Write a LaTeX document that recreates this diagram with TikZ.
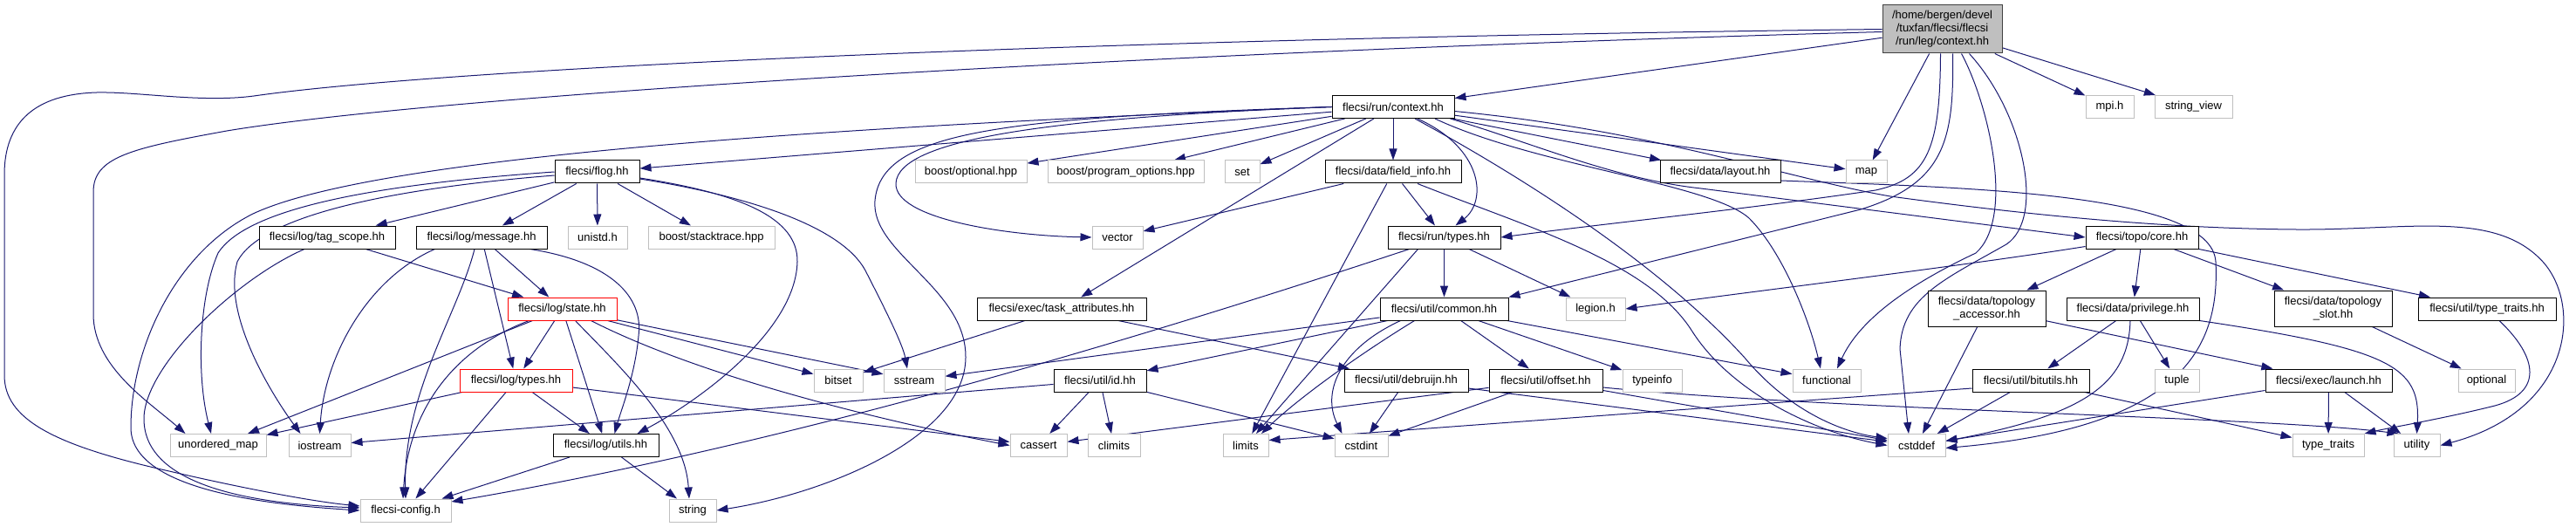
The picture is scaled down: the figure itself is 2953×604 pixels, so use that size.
\documentclass[tikz,border=0pt]{standalone}
\usepackage{fontspec}
\setmainfont{Liberation Sans}
\usetikzlibrary{arrows.meta,calc,backgrounds}
\definecolor{mblue}{RGB}{25,25,112}
\definecolor{gline}{RGB}{191,191,191}
\definecolor{gdark}{RGB}{64,64,64}
\definecolor{gfill}{RGB}{191,191,191}
\newcommand{\nfont}{\fontsize{13}{15}\selectfont}
\tikzset{
 box/.style={draw, rectangle, minimum height=26pt, inner xsep=2pt, inner ysep=1pt, font=\nfont, line width=1pt, fill=white, align=center, text=black},
 doc/.style={box, draw=black},
 ext/.style={box, draw=gline},
 trunc/.style={box, draw=red},
 edge/.style={draw=mblue, line width=1pt, -{Triangle[length=13pt,width=9pt]}},
}
\begin{document}
\begin{tikzpicture}[x=1pt,y=-1pt]
\useasboundingbox (0,0) rectangle (2953,604);
% nodes
\node[box, draw=gdark, fill=gfill, minimum width=137pt, minimum height=55pt] (root) at (2226.5,33.5) {/home/bergen/devel\\/tuxfan/flecsi/flecsi\\/run/leg/context.hh};
\node[doc, minimum width=140pt] (ctx) at (1597,122.5) {flecsi/run/context.hh};
\node[ext, minimum width=55pt] (mpi) at (2418.5,122.5) {mpi.h};
\node[ext, minimum width=89pt] (sview) at (2514.5,122.5) {string\_view};
\node[doc, minimum width=97pt] (flog) at (684.5,197) {flecsi/flog.hh};
\node[ext, minimum width=128pt] (bopt) at (1113,197) {boost/optional.hpp};
\node[ext, minimum width=179pt] (bpo) at (1290.5,197) {boost/program\_options.hpp};
\node[ext, minimum width=40pt] (set) at (1424,197) {set};
\node[doc, minimum width=156pt] (finfo) at (1597,197) {flecsi/data/field\_info.hh};
\node[doc, minimum width=138pt] (layout) at (1972,197) {flecsi/data/layout.hh};
\node[ext, minimum width=47pt] (map) at (2139.5,197) {map};
\node[doc, minimum width=156pt] (tag) at (375,272) {flecsi/log/tag\_scope.hh};
\node[doc, minimum width=150pt] (msg) at (552,272) {flecsi/log/message.hh};
\node[ext, minimum width=68pt] (unistd) at (685,272) {unistd.h};
\node[ext, minimum width=145pt] (bst) at (815.5,272) {boost/stacktrace.hpp};
\node[ext, minimum width=58pt] (vector) at (1281,272) {vector};
\node[doc, minimum width=129pt] (rtypes) at (1655.5,272) {flecsi/run/types.hh};
\node[doc, minimum width=129pt] (core) at (2455.5,272) {flecsi/topo/core.hh};
\node[trunc, minimum width=125pt] (state) at (644.5,354) {flecsi/log/state.hh};
\node[doc, minimum width=194pt] (task) at (1217,354) {flecsi/exec/task\_attributes.hh};
\node[doc, minimum width=147pt] (common) at (1655.5,354) {flecsi/util/common.hh};
\node[ext, minimum width=68pt] (legion) at (1829,354) {legion.h};
\node[doc, minimum width=135pt, minimum height=41pt] (tacc) at (2277.5,353.5) {flecsi/data/topology\\\_accessor.hh};
\node[doc, minimum width=152pt] (priv) at (2445,354) {flecsi/data/privilege.hh};
\node[doc, minimum width=135pt, minimum height=41pt] (tslot) at (2674.5,353.5) {flecsi/data/topology\\\_slot.hh};
\node[doc, minimum width=158pt] (ttraits) at (2851,354) {flecsi/util/type\_traits.hh};
\node[trunc, minimum width=129pt] (ltypes) at (591.5,436) {flecsi/log/types.hh};
\node[ext, minimum width=56pt] (bitset) at (961,436) {bitset};
\node[ext, minimum width=70pt] (sstream) at (1048,436) {sstream};
\node[doc, minimum width=106pt] (id) at (1261,436) {flecsi/util/id.hh};
\node[doc, minimum width=142pt] (debruijn) at (1612,436) {flecsi/util/debruijn.hh};
\node[doc, minimum width=130pt] (offset) at (1772,436) {flecsi/util/offset.hh};
\node[ext, minimum width=68pt] (typeinfo) at (1894,436) {typeinfo};
\node[ext, minimum width=78pt] (functional) at (2094,436) {functional};
\node[doc, minimum width=134pt] (bitutils) at (2328,436) {flecsi/util/bitutils.hh};
\node[ext, minimum width=51pt] (tuple) at (2495.5,436) {tuple};
\node[doc, minimum width=145pt] (launch) at (2669.5,436) {flecsi/exec/launch.hh};
\node[ext, minimum width=65pt] (optional) at (2850.5,436) {optional};
\node[ext, minimum width=110pt] (umap) at (250,510.5) {unordered\_map};
\node[ext, minimum width=71pt] (iostream) at (366.5,510.5) {iostream};
\node[doc, minimum width=121pt] (utils) at (694.5,510.5) {flecsi/log/utils.hh};
\node[ext, minimum width=65pt] (cassert) at (1190.5,510.5) {cassert};
\node[ext, minimum width=60pt] (climits) at (1277,510.5) {climits};
\node[ext, minimum width=52pt] (limits) at (1428,510.5) {limits};
\node[ext, minimum width=61pt] (cstdint) at (1560.5,510.5) {cstdint};
\node[ext, minimum width=66pt] (cstddef) at (2197,510.5) {cstddef};
\node[ext, minimum width=82pt] (stdtt) at (2669,510.5) {type\_traits};
\node[ext, minimum width=53pt] (utility) at (2770.5,510.5) {utility};
\node[ext, minimum width=104pt] (config) at (465,585) {flecsi-config.h};
\node[ext, minimum width=54pt] (string) at (794,585) {string};
% edges
\begin{scope}[on background layer]
% root
\draw[edge] (root) -- (ctx);
\draw[edge] (root.west) .. controls (1200,45) and (500,80) .. (291,110) .. controls (230,118) and (160,105) .. (111,106) .. controls (40,108) and (5,140) .. (5,200) -- (5,430) .. controls (5,480) and (60,510) .. (194,540) .. controls (280,560) and (360,575) .. ($(config.west)+(0,-5)$);
\draw[edge] ($(root.west)+(0,3)$) .. controls (1300,60) and (500,110) .. (260,150) .. controls (150,170) and (107,180) .. (107,220) -- (107,360) .. controls (107,420) and (170,460) .. ($(umap.north west)+(18,0)$);
\draw[edge] (root) -- (map);
\draw[edge] (root) -- (mpi);
\draw[edge] (root) -- (sview);
\draw[edge] ($(root.south)+(-2,0)$) .. controls (2224,170) and (2210,205) .. (2150,218) .. controls (2000,240) and (1850,255) .. (rtypes.east);
\draw[edge] ($(root.south)+(12,0)$) .. controls (2240,160) and (2230,210) .. (2133,240) -- (common.north east);
\draw[edge] ($(root.south)+(22,0)$) .. controls (2280,120) and (2310,250) .. (2265,290) .. controls (2180,330) and (2130,370) .. ($(functional.north)+(12,0)$);
\draw[edge] ($(root.south)+(31,0)$) .. controls (2320,130) and (2345,250) .. (2300,280) .. controls (2230,320) and (2180,340) .. (2178,400) -- ($(cstddef.north)+(-9,0)$);
% run/context.hh
\draw[edge] (ctx) -- (flog);
\draw[edge] (ctx) -- (bopt);
\draw[edge] (ctx) -- (bpo);
\draw[edge] (ctx) -- (set);
\draw[edge] (ctx.west) .. controls (1200,135) and (1030,160) .. (1027,210) .. controls (1025,250) and (1150,270) .. (vector.west);
\draw[edge] (ctx.west) .. controls (1150,135) and (1010,150) .. (1003,230) .. controls (998,290) and (1108,330) .. (1107,410) .. controls (1106,500) and (950,565) .. (string.east);
\draw[edge] (ctx.west) .. controls (1100,140) and (450,170) .. (290,245) .. controls (200,290) and (150,400) .. (150,490) .. controls (150,560) and (300,578) .. (config.west);
\draw[edge] (ctx) -- (finfo);
\draw[edge] ($(ctx.south)+(28,0)$) .. controls (1700,170) and (1705,230) .. ($(rtypes.north)+(13,0)$);
\draw[edge] (ctx) -- (layout);
\draw[edge] (ctx) -- (map);
\draw[edge] ($(ctx.east)+(0,5)$) .. controls (1900,150) and (2050,205) .. (2167,225) .. controls (2350,250) and (2500,262) .. (2632,263) .. controls (2760,264) and (2860,240) .. (2915,300) .. controls (2960,350) and (2950,470) .. (utility.east);
\draw[edge] ($(ctx.south east)+(-5,0)$) .. controls (1760,165) and (1850,205) .. (1950,216) -- (core.west);
\draw[edge] ($(ctx.south)+(48,0)$) .. controls (1760,190) and (1960,210) .. (2005,250) .. controls (2045,290) and (2075,370) .. ($(functional.north)+(-7,0)$);
\draw[edge] ($(ctx.south)+(25,0)$) .. controls (1740,200) and (1900,300) .. (2000,410) .. controls (2050,470) and (2110,495) .. ($(cstddef.west)+(0,-8)$);
\draw[edge] (ctx) -- (task);
% flog
\draw[edge] (flog) -- (tag);
\draw[edge] (flog) -- (msg);
\draw[edge] (flog) -- (unistd);
\draw[edge] (flog) -- (bst);
\draw[edge] (flog.west) .. controls (450,210) and (285,235) .. (250,290) .. controls (228,340) and (225,430) .. ($(umap.north)+(-8,0)$);
\draw[edge] ($(flog.west)+(0,4)$) .. controls (460,215) and (300,245) .. (272,300) .. controls (255,360) and (310,450) .. ($(iostream.north)+(-22,0)$);
\draw[edge] ($(flog.east)+(0,8)$) .. controls (860,225) and (965,260) .. (992,310) .. controls (1015,355) and (1035,395) .. ($(sstream.north)+(-8,0)$);
\draw[edge] ($(flog.east)+(0,7)$) .. controls (850,222) and (915,250) .. (914,300) .. controls (912,380) and (800,460) .. ($(utils.north east)+(-25,0)$);
% tag_scope
\draw[edge] (tag) -- (state);
\draw[edge] ($(tag.south)+(-26,0)$) .. controls (270,320) and (165,420) .. (165,480) .. controls (165,560) and (300,578) .. ($(config.west)+(0,-3)$);
% message
\draw[edge] (msg) -- (state);
\draw[edge] (msg) -- (ltypes);
\draw[edge] ($(msg.south west)+(22,0)$) .. controls (420,320) and (372,410) .. (iostream.north);
\draw[edge] ($(msg.south)+(-8,0)$) .. controls (525,360) and (462,450) .. (config.north);
\draw[edge] ($(msg.south east)+(-20,0)$) .. controls (700,300) and (738,340) .. (732,385) .. controls (728,430) and (712,470) .. ($(utils.north)+(10,0)$);
% state
\draw[edge] (state) -- (umap);
\draw[edge] ($(state.south)+(-38,0)$) .. controls (520,400) and (468,470) .. ($(config.north)+(-3,0)$);
\draw[edge] (state) -- (ltypes);
\draw[edge] (state) -- (utils);
\draw[edge] ($(state.south)+(15,0)$) .. controls (710,420) and (785,490) .. ($(string.north)+(-4,0)$);
\draw[edge] (state) -- (sstream);
\draw[edge] (state) -- (bitset);
\draw[edge] ($(state.south east)+(-30,0)$) .. controls (800,430) and (1000,480) .. (cassert.west);
% log/types
\draw[edge] (ltypes) -- (umap);
\draw[edge] (ltypes) -- (config);
\draw[edge] (ltypes) -- (utils);
\draw[edge] (ltypes) -- (cassert);
% utils
\draw[edge] (utils) -- (config);
\draw[edge] (utils) -- (string);
% run/types
\draw[edge] (rtypes) -- (common);
\draw[edge] (rtypes) -- (legion);
\draw[edge] ($(rtypes.south)+(-30,0)$) -- ($(limits.north)+(12,0)$);
\draw[edge] ($(rtypes.south west)+(25,0)$) .. controls (1300,390) and (900,510) .. ($(config.east)+(0,-10)$);
% field_info
\draw[edge] (finfo) -- (vector);
\draw[edge] (finfo) -- (rtypes);
\draw[edge] (finfo) -- (limits);
\draw[edge] ($(finfo.south)+(28,0)$) .. controls (1750,260) and (1890,300) .. (1940,380) .. controls (1985,450) and (2080,495) .. (cstddef.west);
% layout
\draw[edge] ($(layout.east)+(0,10)$) .. controls (2250,215) and (2535,220) .. (2540,300) .. controls (2545,400) and (2500,490) .. ($(cstddef.east)+(0,3)$);
% common
\draw[edge] (common) -- (sstream);
\draw[edge] (common) -- (id);
\draw[edge] ($(common.south)+(-50,0)$) .. controls (1535,400) and (1515,450) .. ($(cstdint.north)+(-22,0)$);
\draw[edge] ($(common.south west)+(40,0)$) .. controls (1560,405) and (1490,455) .. ($(limits.north)+(18,0)$);
\draw[edge] (common) -- (offset);
\draw[edge] (common) -- (typeinfo);
\draw[edge] (common) -- (functional);
% task_attributes
\draw[edge] (task) -- (bitset);
\draw[edge] (task) -- (debruijn);
% id
\draw[edge] (id) -- (iostream);
\draw[edge] (id) -- (cassert);
\draw[edge] (id) -- (climits);
\draw[edge] (id) -- (cstdint);
% debruijn
\draw[edge] (debruijn) -- (cstdint);
\draw[edge] (debruijn) -- (cstddef);
% offset
\draw[edge] (offset) -- (cassert);
\draw[edge] (offset) -- (cstdint);
\draw[edge] (offset) -- (cstddef);
\draw[edge] ($(offset.east)+(0,8)$) .. controls (2100,470) and (2600,478) .. ($(utility.north west)+(6,0)$);
% bitutils
\draw[edge] ($(bitutils.west)+(0,9)$) -- ($(limits.east)+(0,-6)$);
\draw[edge] (bitutils) -- (cstddef);
\draw[edge] (bitutils) -- (stdtt);
% privilege
\draw[edge] (priv) -- (bitutils);
\draw[edge] (priv) -- (tuple);
\draw[edge] ($(priv.south)+(-3,0)$) .. controls (2440,440) and (2390,475) .. ($(cstddef.east)+(0,-5)$);
\draw[edge] (priv.south east) .. controls (2740,400) and (2775,420) .. (utility.north);
% topology_accessor, slot, type_traits
\draw[edge] (tacc) -- (cstddef);
\draw[edge] (tacc) -- (launch);
\draw[edge] (tslot) -- (optional);
\draw[edge] ($(ttraits.south)+(14,0)$) .. controls (2910,410) and (2915,450) .. (2860,465) .. controls (2800,480) and (2740,490) .. (stdtt.north east);
% launch
\draw[edge] (launch) -- (cstddef);
\draw[edge] (launch) -- (stdtt);
\draw[edge] (launch) -- (utility);
% topo/core
\draw[edge] ($(core.south west)+(0,-3)$) .. controls (2250,305) and (2000,335) .. (legion.east);
\draw[edge] (core) -- (tacc);
\draw[edge] (core) -- (priv);
\draw[edge] (core) -- (tslot);
\draw[edge] (core) -- (ttraits);
\end{scope}
\end{tikzpicture}
\end{document}
